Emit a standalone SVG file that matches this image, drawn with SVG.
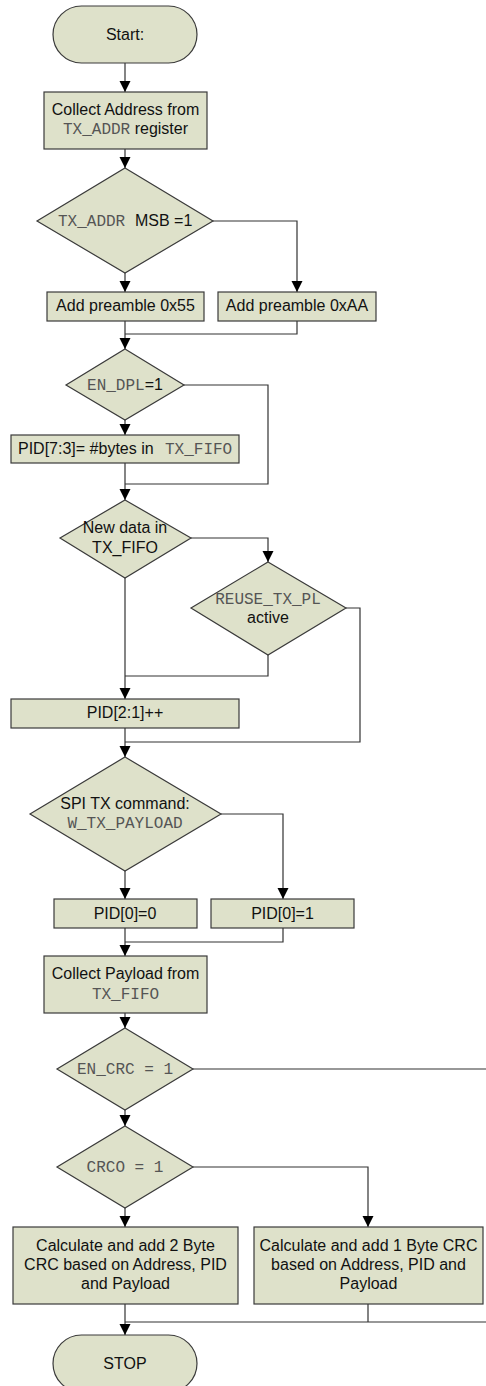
<svg xmlns="http://www.w3.org/2000/svg" width="486" height="1386" viewBox="0 0 486 1386">
<style>
.s{fill:#dee1ca;stroke:#3a3a3a;stroke-width:1.2}
.t{font-family:"Liberation Sans",Arial,sans-serif;font-size:16px;fill:#111}
.m{font-family:"Liberation Mono","Courier New",monospace;font-size:16px;fill:#555}
.c{text-anchor:middle}
.l{fill:none;stroke:#333;stroke-width:1.2}
</style>
<defs>
<marker id="a" markerUnits="userSpaceOnUse" markerWidth="12" markerHeight="12" refX="11" refY="5.5" orient="auto">
<path d="M0,0 L11,5.5 L0,11 z" fill="#000"/>
</marker>
</defs>
<rect width="486" height="1386" fill="#fff"/>
<g id="connectors">
<path class="l" d="M125,63 V92" marker-end="url(#a)"/>
<path class="l" d="M125,149 V168" marker-end="url(#a)"/>
<path class="l" d="M125,273 V292" marker-end="url(#a)"/>
<path class="l" d="M213,221 H297 V292" marker-end="url(#a)"/>
<path class="l" d="M125,321 V349" marker-end="url(#a)"/>
<path class="l" d="M297,321 V334 H125"/>
<path class="l" d="M184,385 H268 V484 H125"/>
<path class="l" d="M125,420 V435" marker-end="url(#a)"/>
<path class="l" d="M125,463 V500" marker-end="url(#a)"/>
<path class="l" d="M191,538 H268 V562" marker-end="url(#a)"/>
<path class="l" d="M125,578 V699" marker-end="url(#a)"/>
<path class="l" d="M268,655 V676 H125"/>
<path class="l" d="M346,608 H360 V742 H125"/>
<path class="l" d="M125,728 V757" marker-end="url(#a)"/>
<path class="l" d="M125,871 V899" marker-end="url(#a)"/>
<path class="l" d="M221,814 H283 V899" marker-end="url(#a)"/>
<path class="l" d="M125,928 V956" marker-end="url(#a)"/>
<path class="l" d="M283,928 V942 H125"/>
<path class="l" d="M125,1013 V1028" marker-end="url(#a)"/>
<path class="l" d="M193,1069 H486"/>
<path class="l" d="M125,1110 V1126" marker-end="url(#a)"/>
<path class="l" d="M125,1208 V1227" marker-end="url(#a)"/>
<path class="l" d="M193,1167 H368 V1227" marker-end="url(#a)"/>
<path class="l" d="M125,1304 V1335" marker-end="url(#a)"/>
<path class="l" d="M368,1304 V1322 M486,1322 H125"/>
</g>
<g id="start">
<rect class="s" x="53" y="6" width="144" height="57" rx="28.5"/>
<text class="t c" x="125" y="40">Start:</text>
</g>
<g id="collect-address">
<rect class="s" x="44" y="92" width="163" height="57"/>
<text class="t c" x="125.5" y="115">Collect Address from</text>
<text class="t c" x="125.5" y="134"><tspan class="m">TX_ADDR</tspan> register</text>
</g>
<g id="d-msb">
<polygon class="s" points="125,168 213,221 125,273 37,221"/>
<text class="m" x="58" y="226">TX_ADDR</text>
<text class="t" x="135" y="226">MSB =1</text>
</g>
<g id="pre55">
<rect class="s" x="47" y="292" width="157" height="29"/>
<text class="t c" x="125.5" y="311">Add preamble 0x55</text>
</g>
<g id="preAA">
<rect class="s" x="218" y="292" width="158" height="29"/>
<text class="t c" x="297" y="311">Add preamble 0xAA</text>
</g>
<g id="d-dpl">
<polygon class="s" points="125,349 184,385 125,420 66,385"/>
<text class="t c" x="125" y="390"><tspan class="m">EN_DPL</tspan>=1</text>
</g>
<g id="pid73">
<rect class="s" x="11" y="435" width="228" height="28"/>
<text class="t" x="18" y="454">PID[7:3]= #bytes in</text>
<text class="m" x="165" y="454">TX_FIFO</text>
</g>
<g id="d-newdata">
<polygon class="s" points="125,500 191,538 125,578 60,538"/>
<text class="t c" x="125" y="533">New data in</text>
<text class="t c" x="125" y="553">TX_FIFO</text>
</g>
<g id="d-reuse">
<polygon class="s" points="268,562 346,608 268,655 191,608"/>
<text class="m c" x="268" y="604">REUSE_TX_PL</text>
<text class="t c" x="268" y="623">active</text>
</g>
<g id="pid21">
<rect class="s" x="11" y="699" width="228" height="29"/>
<text class="t c" x="125" y="718">PID[2:1]++</text>
</g>
<g id="d-spi">
<polygon class="s" points="125,757 221,814 125,871 30,814"/>
<text class="t c" x="125" y="809">SPI TX command:</text>
<text class="m c" x="125" y="828">W_TX_PAYLOAD</text>
</g>
<g id="pid0-0">
<rect class="s" x="54" y="899" width="143" height="29"/>
<text class="t c" x="125" y="919">PID[0]=0</text>
</g>
<g id="pid0-1">
<rect class="s" x="211" y="899" width="143" height="29"/>
<text class="t c" x="282.5" y="919">PID[0]=1</text>
</g>
<g id="collect-payload">
<rect class="s" x="44" y="956" width="163" height="57"/>
<text class="t c" x="125.5" y="979">Collect Payload from</text>
<text class="m c" x="125.5" y="999">TX_FIFO</text>
</g>
<g id="d-encrc">
<polygon class="s" points="125,1028 193,1069 125,1110 57,1069"/>
<text class="m c" x="125" y="1074">EN_CRC = 1</text>
</g>
<g id="d-crco">
<polygon class="s" points="125,1126 193,1167 125,1208 57,1167"/>
<text class="m c" x="125" y="1172">CRCO = 1</text>
</g>
<g id="crc2">
<rect class="s" x="13" y="1227" width="225" height="77"/>
<text class="t c" x="125.5" y="1251">Calculate and add 2 Byte</text>
<text class="t c" x="125.5" y="1270">CRC based on Address, PID</text>
<text class="t c" x="125.5" y="1289">and Payload</text>
</g>
<g id="crc1">
<rect class="s" x="254" y="1227" width="229" height="77"/>
<text class="t c" x="368.5" y="1251">Calculate and add 1 Byte CRC</text>
<text class="t c" x="368.5" y="1270">based on Address, PID and</text>
<text class="t c" x="368.5" y="1289">Payload</text>
</g>
<g id="stop">
<rect class="s" x="53" y="1335" width="144" height="57" rx="28.5"/>
<text class="t c" x="125" y="1369">STOP</text>
</g>
</svg>
